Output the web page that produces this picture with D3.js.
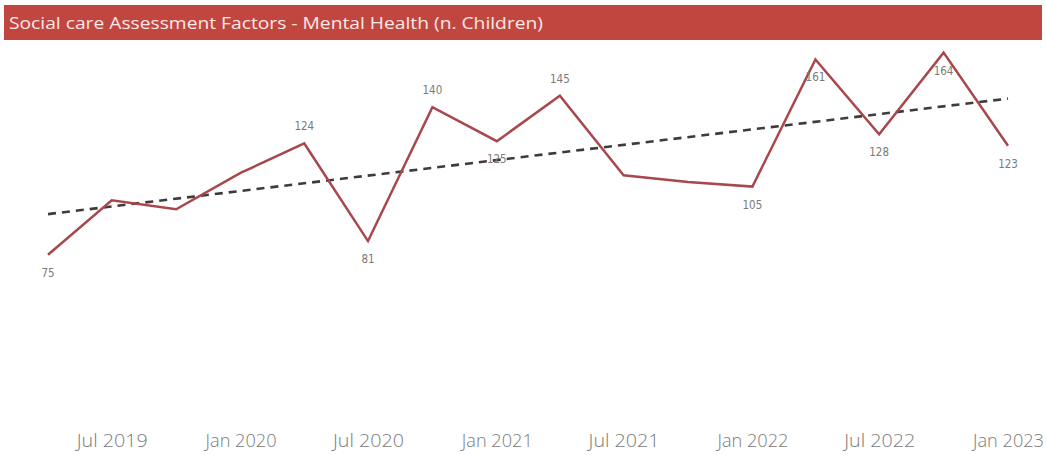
<!DOCTYPE html>
<html>
<head>
<meta charset="utf-8">
<script src="https://cdn.jsdelivr.net/npm/d3@7"></script>
<style>
  html, body { margin: 0; padding: 0; background: #ffffff; }
  svg { display: block; }
</style>
</head>
<body>
<svg id="chart" width="1046" height="455"></svg>
<script>
// ---- data ----
const title = "Social care Assessment Factors - Mental Health (n. Children)";
const dates = ["2019-04-01","2019-07-01","2019-10-01","2020-01-01","2020-04-01","2020-07-01",
               "2020-10-01","2021-01-01","2021-04-01","2021-07-01","2021-10-01","2022-01-01",
               "2022-04-01","2022-07-01","2022-10-01","2023-01-01"];
const values = [75, 99, 95, 111, 124, 81, 140, 125, 145, 110, 107, 105, 161, 128, 164, 123];
// which points carry a data label, and where ("a" above, "b" below, "" none)
const labelSide = ["b","","","","a","b","a","b","a","","","b","b","b","b","b"];
const tickDates = ["2019-07-01","2020-01-01","2020-07-01","2021-01-01","2021-07-01",
                   "2022-01-01","2022-07-01","2023-01-01"];

// ---- setup ----
const parse = d3.timeParse("%Y-%m-%d");
const data = dates.map((d, i) => ({ date: parse(d), value: values[i], side: labelSide[i] }));
const svg = d3.select("#chart");

const x = d3.scaleTime()
  .domain(d3.extent(data, d => d.date))
  .range([48, 1008]);
const y = d3.scaleLinear()
  .domain([0, 170])
  .range([425, 39]);

// ---- title bar ----
svg.append("rect")
  .attr("x", 4).attr("y", 5)
  .attr("width", 1038).attr("height", 35)
  .attr("fill", "#c1463f");
const t = svg.append("text")
  .attr("x", 9).attr("y", 28.5)
  .attr("font-family", "'Open Sans', 'Noto Sans', sans-serif")
  .attr("font-size", 17)
  .attr("fill", "#fbe9e7")
  .text(title);
t.attr("textLength", 534).attr("lengthAdjust", "spacingAndGlyphs");

// ---- x axis ----
const xAxis = d3.axisBottom(x)
  .tickValues(tickDates.map(parse))
  .tickFormat(d3.timeFormat("%b %Y"))
  .tickSize(0)
  .tickPadding(0);
const gx = svg.append("g")
  .attr("transform", "translate(0,432)")
  .call(xAxis);
gx.select(".domain").remove();
gx.selectAll("text")
  .attr("font-family", "'Open Sans', 'Noto Sans', sans-serif")
  .attr("font-size", 19)
  .attr("font-weight", 300)
  .attr("fill", "#7a7a7a")
  .attr("dy", "0.8em")
  .attr("textLength", 71)
  .attr("lengthAdjust", "spacingAndGlyphs");

// ---- trend line (least squares over time) ----
const xs = data.map(d => +d.date), ys = data.map(d => d.value);
const mx = d3.mean(xs), my = d3.mean(ys);
const slope = d3.sum(xs.map((v, i) => (v - mx) * (ys[i] - my))) / d3.sum(xs.map(v => (v - mx) ** 2));
const icpt = my - slope * mx;
const ends = d3.extent(xs);
svg.append("line")
  .attr("x1", x(new Date(ends[0]))).attr("y1", y(icpt + slope * ends[0]))
  .attr("x2", x(new Date(ends[1]))).attr("y2", y(icpt + slope * ends[1]))
  .attr("stroke", "#3f3a3b")
  .attr("stroke-width", 2.6)
  .attr("stroke-dasharray", "8,6");

// ---- main line ----
const line = d3.line().x(d => x(d.date)).y(d => y(d.value));
svg.append("path")
  .datum(data)
  .attr("fill", "none")
  .attr("stroke", "#a8474c")
  .attr("stroke-width", 2.5)
  .attr("stroke-linejoin", "miter")
  .attr("d", line);

// ---- data labels ----
svg.append("g").selectAll("text")
  .data(data.filter(d => d.side))
  .join("text")
  .attr("x", d => x(d.date))
  .attr("y", d => y(d.value) + (d.side === "a" ? -13 : 22))
  .attr("text-anchor", "middle")
  .attr("font-family", "'DejaVu Sans Condensed', 'Roboto', sans-serif")
  .attr("font-size", 11.5)
  .attr("fill", "#7a7a7a")
  .text(d => d.value);
</script>
</body>
</html>
